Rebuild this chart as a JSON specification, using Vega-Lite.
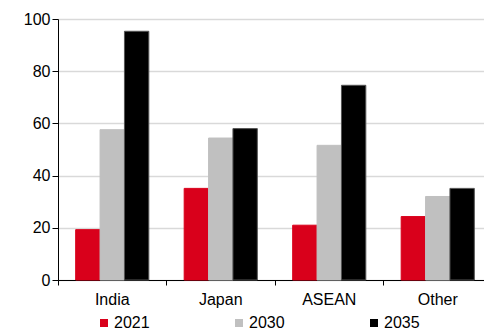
{
  "$schema": "https://vega.github.io/schema/vega-lite/v6.json",
  "width": 426,
  "height": 261,
  "autosize": {"type": "none"},
  "padding": {"left": 58, "top": 19, "right": 0, "bottom": 54},
  "config": {"font": "Liberation Sans", "view": {"stroke": null}},
  "data": {
    "values": [
      {"region": "India", "year": "2021", "value": 19.3},
      {"region": "India", "year": "2030", "value": 57.6},
      {"region": "India", "year": "2035", "value": 95.3},
      {"region": "Japan", "year": "2021", "value": 35.1},
      {"region": "Japan", "year": "2030", "value": 54.4},
      {"region": "Japan", "year": "2035", "value": 58.0},
      {"region": "ASEAN", "year": "2021", "value": 21.0},
      {"region": "ASEAN", "year": "2030", "value": 51.6},
      {"region": "ASEAN", "year": "2035", "value": 74.6},
      {"region": "Other", "year": "2021", "value": 24.3},
      {"region": "Other", "year": "2030", "value": 32.0},
      {"region": "Other", "year": "2035", "value": 35.1}
    ]
  },
  "mark": {"type": "bar", "strokeWidth": 1},
  "encoding": {
    "x": {
      "field": "region",
      "type": "nominal",
      "sort": ["India", "Japan", "ASEAN", "Other"],
      "scale": {"range": [0, 434], "paddingInner": 0, "paddingOuter": 0},
      "axis": {
        "title": null,
        "labelAngle": 0,
        "bandPosition": 0,
        "domainColor": "#000",
        "tickColor": "#000",
        "tickSize": 5,
        "labelFontSize": 16,
        "labelColor": "#000",
        "labelPadding": 6,
        "grid": false
      }
    },
    "xOffset": {
      "field": "year",
      "type": "nominal",
      "sort": ["2021", "2030", "2035"],
      "scale": {"paddingInner": 0, "paddingOuter": 0.725}
    },
    "y": {
      "field": "value",
      "type": "quantitative",
      "scale": {"domain": [0, 100]},
      "axis": {
        "title": null,
        "values": [0, 20, 40, 60, 80, 100],
        "gridColor": "#d9d9d9",
        "gridWidth": 1.5,
        "domainColor": "#000",
        "tickColor": "#000",
        "tickSize": 6,
        "labelFontSize": 16,
        "labelColor": "#000",
        "labelPadding": 2
      }
    },
    "color": {
      "field": "year",
      "type": "nominal",
      "scale": {"domain": ["2021", "2030", "2035"], "range": ["#D9001B", "#C0C0C0", "#000000"]},
      "legend": {
        "title": null,
        "orient": "none",
        "legendX": 38,
        "legendY": 296,
        "direction": "horizontal",
        "symbolType": "square",
        "symbolSize": 64,
        "symbolStrokeWidth": 0,
        "labelFontSize": 16,
        "labelColor": "#000",
        "labelOffset": 2,
        "columnPadding": 81
      }
    },
    "stroke": {
      "field": "year",
      "type": "nominal",
      "scale": {"domain": ["2021", "2030", "2035"], "range": ["#D9001B", "#C0C0C0", "#555555"]},
      "legend": null
    }
  }
}
